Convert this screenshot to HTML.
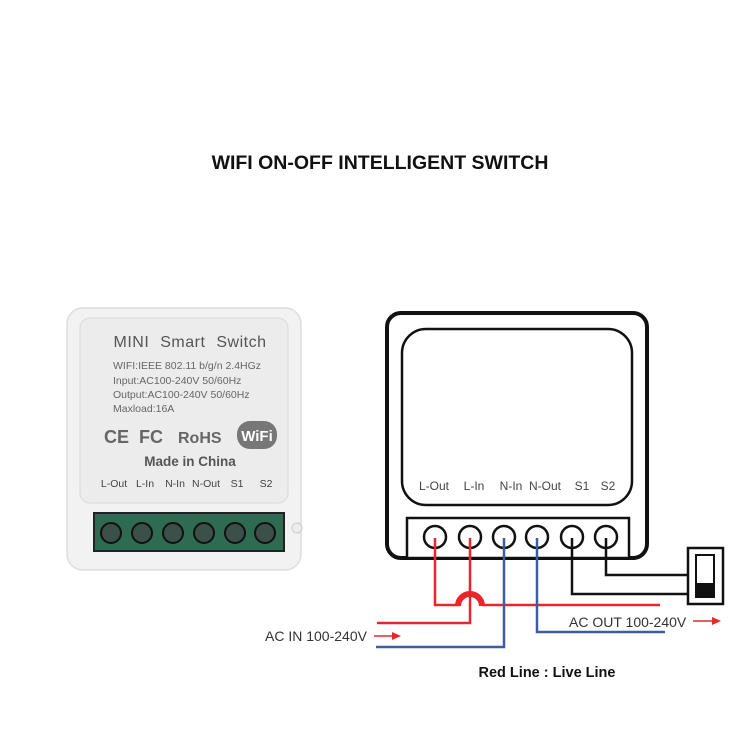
<!DOCTYPE html>
<html><head><meta charset="utf-8"><style>
body{margin:0;width:750px;height:750px;background:#fff;overflow:hidden;font-family:"Liberation Sans",sans-serif}
</style></head><body>
<svg width="750" height="750" xmlns="http://www.w3.org/2000/svg" font-family="Liberation Sans, sans-serif">
<text x="380" y="169" font-size="19.5" font-weight="bold" text-anchor="middle" fill="#111">WIFI ON-OFF INTELLIGENT SWITCH</text>

<!-- device photo -->
<rect x="67" y="308" width="234" height="262" rx="16" fill="#f2f2f2" stroke="#ddd" stroke-width="1.5"/>
<rect x="80" y="318" width="208" height="185" rx="10" fill="#ececec" stroke="#d8d8d8"/>
<text x="190" y="347" font-size="16" text-anchor="middle" fill="#555" word-spacing="6" letter-spacing="0.5">MINI Smart Switch</text>
<g font-size="10.5" fill="#666">
<text x="113" y="369">WIFI:IEEE 802.11 b/g/n 2.4HGz</text>
<text x="113" y="384">Input:AC100-240V 50/60Hz</text>
<text x="113" y="398">Output:AC100-240V 50/60Hz</text>
<text x="113" y="412">Maxload:16A</text>
</g>
<text x="104" y="443" font-size="18" font-weight="bold" fill="#666">CE</text>
<text x="139" y="443" font-size="18" font-weight="bold" fill="#666">FC</text>
<text x="178" y="443" font-size="16" font-weight="bold" fill="#666">RoHS</text>
<rect x="237" y="421" width="40" height="28" rx="13" fill="#777"/>
<text x="257" y="441" font-size="15" font-weight="bold" fill="#fff" text-anchor="middle">WiFi</text>
<text x="190" y="466" font-size="13.5" fill="#555" text-anchor="middle" font-weight="bold">Made in China</text>
<g font-size="10.5" fill="#444" text-anchor="middle">
<text x="114" y="487">L-Out</text><text x="145" y="487">L-In</text><text x="175" y="487">N-In</text><text x="206" y="487">N-Out</text><text x="237" y="487">S1</text><text x="266" y="487">S2</text>
</g>
<rect x="94" y="513" width="190" height="38" fill="#2f6b52" stroke="#222" stroke-width="2"/>
<g fill="#3a5048" stroke="#111" stroke-width="2">
<circle cx="111" cy="533" r="10"/><circle cx="142" cy="533" r="10"/><circle cx="173" cy="533" r="10"/><circle cx="204" cy="533" r="10"/><circle cx="235" cy="533" r="10"/><circle cx="265" cy="533" r="10"/>
</g>
<circle cx="297" cy="528" r="5" fill="#eee" stroke="#ccc"/>

<!-- diagram -->
<rect x="387" y="313" width="260" height="245" rx="14" fill="none" stroke="#111" stroke-width="4"/>
<rect x="402" y="329" width="230" height="176" rx="24" fill="none" stroke="#111" stroke-width="2.5"/>
<rect x="407" y="518" width="222" height="40" fill="#fff" stroke="#111" stroke-width="2.5"/>
<g font-size="12" fill="#444" text-anchor="middle">
<text x="434" y="490">L-Out</text><text x="474" y="490">L-In</text><text x="511" y="490">N-In</text><text x="545" y="490">N-Out</text><text x="582" y="490">S1</text><text x="608" y="490">S2</text>
</g>
<g fill="none" stroke="#111" stroke-width="2.5">
<circle cx="435" cy="537" r="11"/><circle cx="470" cy="537" r="11"/><circle cx="504" cy="537" r="11"/><circle cx="537" cy="537" r="11"/><circle cx="572" cy="537" r="11"/><circle cx="606" cy="537" r="11"/>
</g>
<!-- switch wires -->
<polyline points="572,538 572,594 688,594" fill="none" stroke="#111" stroke-width="2.5"/>
<polyline points="606,538 606,575 688,575" fill="none" stroke="#111" stroke-width="2.5"/>
<rect x="688" y="548" width="35" height="56" fill="#fff" stroke="#111" stroke-width="2.5"/>
<rect x="696" y="555" width="18" height="42" fill="#fff" stroke="#111" stroke-width="2"/>
<rect x="696" y="583" width="18" height="14" fill="#111"/>
<!-- red wires -->
<polyline points="435,538 435,605 460,605" fill="none" stroke="#e8262b" stroke-width="2.5"/>
<path d="M458,606 A12,12 0 0 1 482,606" fill="none" stroke="#e8262b" stroke-width="6"/>
<polyline points="482,605 660,605" fill="none" stroke="#e8262b" stroke-width="2.5"/>
<polyline points="470,538 470,623 377,623" fill="none" stroke="#e8262b" stroke-width="2.5"/>
<!-- blue wires -->
<polyline points="504,538 504,647 376,647" fill="none" stroke="#3b5ea0" stroke-width="2.5"/>
<polyline points="537,538 537,632 665,632" fill="none" stroke="#3b5ea0" stroke-width="2.5"/>
<!-- labels -->
<text x="265" y="641" font-size="14" fill="#333">AC IN 100-240V</text>
<line x1="374" y1="636" x2="394" y2="636" stroke="#e8262b" stroke-width="1.5"/>
<path d="M392,632 L401,636 L392,640 Z" fill="#e8262b"/>
<text x="569" y="627" font-size="14" fill="#333">AC OUT 100-240V</text>
<line x1="693" y1="621" x2="714" y2="621" stroke="#e8262b" stroke-width="1.5"/>
<path d="M712,617 L721,621 L712,625 Z" fill="#e8262b"/>
<text x="547" y="677" font-size="14.5" font-weight="bold" fill="#111" text-anchor="middle">Red Line : Live Line</text>
</svg>
</body></html>
